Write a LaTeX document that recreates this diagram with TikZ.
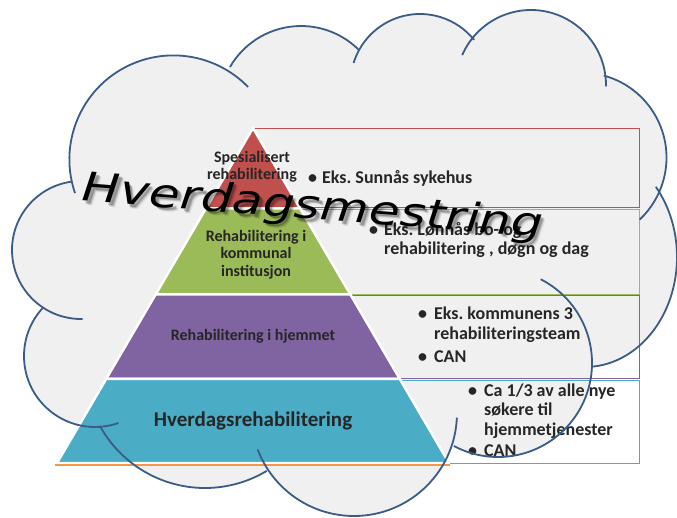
\documentclass[tikz,border=0pt]{standalone}
\usepackage{fontspec}
\setmainfont{Carlito}
\newfontfamily\wordartfont{DejaVu Sans}
\usetikzlibrary{calc}
\definecolor{cloudfill}{RGB}{240,240,240}
\definecolor{cloudline}{RGB}{58,92,134}
\definecolor{lvlred}{RGB}{192,80,77}
\definecolor{lvlgreen}{RGB}{155,187,89}
\definecolor{lvlpurple}{RGB}{128,100,162}
\definecolor{lvlteal}{RGB}{75,172,198}
\definecolor{lineorange}{RGB}{247,150,70}
\definecolor{labelgray}{RGB}{38,38,38}
\frenchspacing

\begin{document}
\begin{tikzpicture}[x=1pt,y=-1pt,
    bump/.style={draw=cloudline, line width=1.8pt},
    level/.style={draw=white, line width=2.5pt, line join=round},
    listbox/.style={line width=1pt},
    lvltext/.style={font=\bfseries\fontsize{16}{17.5}\selectfont, text=labelgray, align=center, inner sep=0pt},
    bullets/.style={font=\bfseries\fontsize{18}{19.5}\selectfont, text=labelgray, anchor=base west, inner sep=0pt},
    wordart/.style={font=\wordartfont\itshape\fontsize{40}{48}\selectfont, anchor=base, rotate=-4.5, inner sep=0pt}]
    \useasboundingbox (0,0) rectangle (677,517);
    \fill[white] (0,0) rectangle (677,517);

    % cloud background: inner polygon plus the puffs
    \fill[cloudfill] (72,183) -- (231,68) -- (357,53) -- (470,37) -- (605,76) -- (657,192)
      -- (592,365) -- (454,445) -- (267,471) -- (100,426) -- (43,308) -- cycle;
    \foreach \cx/\cy/\rad in {173.4/159.4/104, 301/108/82, 420/83.5/69.5, 531/85/75, 581.5/157.6/85,
      498/363/94, 354/413/103, 205/368/120, 95/356/71, 81/250/69} {
    \fill[cloudfill] (\cx,\cy) circle (\rad);
    }
    \fill[cloudfill] (585,257) ellipse (92 and 110);

    % boxes behind the pyramid
    \draw[listbox, draw=lvlred] (253,128) rectangle (639,207.5);
    \draw[listbox, draw=lvlgreen] (253,209.5) rectangle (639,294);
    \draw[listbox, draw=lvlpurple] (253,295.5) rectangle (639,378);
    \draw[listbox, draw=lvlteal] (253,380) rectangle (639,463);

    % pyramid
    \coordinate (top) at (253,128);
    \coordinate (bl) at (57,463);
    \coordinate (br) at (449,463);
    \foreach \f/\name in {0.24/a,0.497/b,0.749/c} {
    \coordinate (l\name) at ($(top)!\f!(bl)$);
    \coordinate (r\name) at ($(top)!\f!(br)$);
    }
    \filldraw[level, fill=lvlred] (top) -- (ra) -- (la) -- cycle;
    \filldraw[level, fill=lvlgreen] (la) -- (ra) -- (rb) -- (lb) -- cycle;
    \filldraw[level, fill=lvlpurple] (lb) -- (rb) -- (rc) -- (lc) -- cycle;
    \filldraw[level, fill=lvlteal] (lc) -- (rc) -- (br) -- (bl) -- cycle;
    \draw[lineorange, line width=1.5pt] (55,465) -- (450,465);

    \node[lvltext] (spes) at (252,166.5) {Spesialisert\\rehabilitering};
    \node[lvltext] (komm) at (256,254.5) {Rehabilitering i\\kommunal\\institusjon};
    \node[lvltext] (hjem) at (253,336) {Rehabilitering i hjemmet};
    \node[lvltext, font=\bfseries\fontsize{21}{24}\selectfont] (hverdag) at (253,421) {Hverdagsrehabilitering};

    \node[bullets] (redlist) at (308,183) {\begin{tabular}[t]{@{}l@{\hspace{5pt}}l@{}}\textbullet & Eks. Sunnås sykehus\end{tabular}};
    \node[bullets, font=\bfseries\fontsize{18}{19}\selectfont] (greenlist) at (369,235.5) {\begin{tabular}[t]{@{}l@{\hspace{6pt}}l@{}}\textbullet & Eks. Lønnås bo- og\\ & rehabilitering , døgn og dag\end{tabular}};
    \node[bullets, font=\bfseries\fontsize{18}{20}\selectfont] (purplelist) at (418,319.5) {\begin{tabular}[t]{@{}l@{\hspace{7pt}}l@{}}\textbullet & Eks. kommunens 3\\ & rehabiliteringsteam\\[3pt] \textbullet & CAN\end{tabular}};
    \node[bullets] (teallist) at (468,396) {\begin{tabular}[t]{@{}l@{\hspace{7pt}}l@{}}\textbullet & Ca 1/3 av alle nye\\ & søkere til\\ & hjemmetjenester\\[2pt] \textbullet & CAN\end{tabular}};

    % cloud outline, one puff at a time (centre/start/end/radius)
    \foreach \cx/\cy/\from/\to/\rad in {173.4/159.4/161.1/315.9/104, 301/108/210/315/82, 420/83.5/197.2/321.1/69.5,
      531/85/203.5/361/75, 581.5/157.6/285.2/406.8/85, 498/363/-63/118/94, 354/413/2.6/159.2/103,
      205/368/59/151.1/120, 95/356/222.3/70.6/71, 81/250/262.2/88.6/69} {
    \draw[bump] (\cx,\cy) ++(\from:\rad) arc (\from:\to:\rad);
    }
    \draw[bump] (585,257) ++(320.4:92 and 110) arc (320.4:445.6:92 and 110);

    % word art with soft shadow
    \foreach \dx/\op/\k in {4.5/0.08/a,3.5/0.15/b,2.5/0.22/c} {
    \node[wordart, text=black, opacity=\op] (mestringshadow\k) at ($(312,219)+(\dx,\dx)$) {\scalebox{1.25}[1]{Hverdagsmestring}};
    }
    \node[wordart] (mestring) at (312,219) {\scalebox{1.25}[1]{Hverdagsmestring}};
\end{tikzpicture}
\end{document}
